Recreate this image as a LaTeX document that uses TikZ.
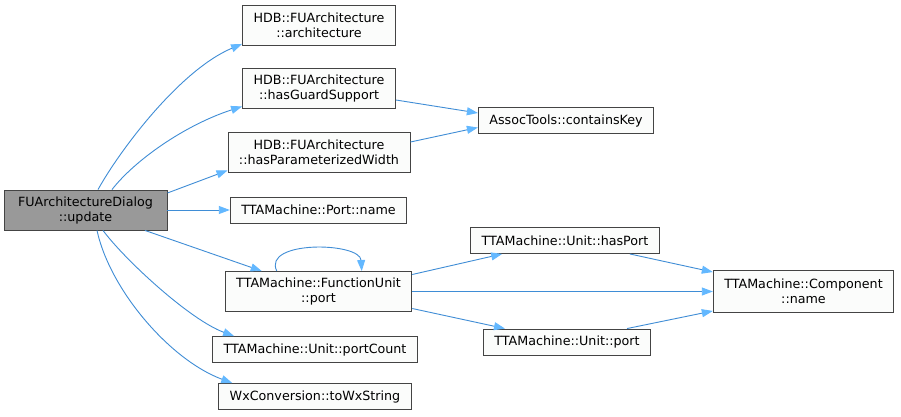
\documentclass[tikz,border=0pt]{standalone}
\usepackage{fontspec}
\setmainfont{DejaVu Sans}
\usetikzlibrary{arrows.meta}
\definecolor{edgec}{HTML}{3F8DD6}
\definecolor{headc}{HTML}{63B8FF}
\definecolor{boxc}{HTML}{444444}
\definecolor{fillc}{HTML}{FBFCFB}
\definecolor{curc}{HTML}{999999}
\begin{document}
\begin{tikzpicture}[x=1pt,y=-1pt,
  fn/.style={draw=boxc, fill=fillc, line width=0.9pt, inner xsep=11pt, inner ysep=0pt,
    font=\fontsize{12.7}{15}\selectfont, align=center, minimum height=26pt},
  fn2/.style={fn, minimum height=40pt},
  cur/.style={fn2, fill=curc, minimum width=163pt},
  edge/.style={draw=edgec, line width=0.9pt, -{Triangle[length=11pt,width=8pt,color=headc]}}]
\fill[white] (0,0) rectangle (901,417);
\useasboundingbox (0,0) rectangle (901,417);

\node[cur] (upd) at (85.5,210) {FUArchitectureDialog\\::update};
\node[fn2] (arch) at (319,25.5) {HDB::FUArchitecture\\::architecture};
\node[fn2] (hg) at (319,88) {HDB::FUArchitecture\\::hasGuardSupport};
\node[fn2] (hpw) at (319,152) {HDB::FUArchitecture\\::hasParameterizedWidth};
\node[fn] (pn) at (318.5,210) {TTAMachine::Port::name};
\node[fn2] (fup) at (318.5,291.5) {TTAMachine::FunctionUnit\\::port};
\node[fn] (pc) at (315,349.5) {TTAMachine::Unit::portCount};
\node[fn] (wx) at (315,396.5) {WxConversion::toWxString};
\node[fn] (ck) at (566,120.5) {AssocTools::containsKey};
\node[fn] (hp) at (565,240.5) {TTAMachine::Unit::hasPort};
\node[fn] (up) at (567,342) {TTAMachine::Unit::port};
\node[fn2, minimum height=42pt] (comp) at (803.5,291.5) {TTAMachine::Component\\::name};

% from update
\draw[edge] ([xshift=12.5pt]upd.north) .. controls (120,150) and (180,70) .. ([yshift=2pt]arch.south west);
\draw[edge] ([xshift=26.5pt]upd.north) .. controls (135,160) and (185,125) .. ([yshift=2pt]hg.south west);
\draw[edge] ([yshift=17pt]upd.east) -- ([yshift=2pt]hpw.south west);
\draw[edge] (upd.east) -- (pn.west);
\draw[edge] ([xshift=59.5pt]upd.south) -- ([xshift=37pt]fup.north west);
\draw[edge] ([xshift=17.5pt]upd.south) .. controls (125,260) and (190,320) .. ([xshift=22pt]pc.north west);
\draw[edge] ([xshift=11.5pt]upd.south) .. controls (110,290) and (170,360) .. ([xshift=14pt]wx.north west);

% self loop
\draw[edge] ([xshift=52pt]fup.north west) .. controls (262,240) and (360,242) .. ([xshift=137pt]fup.north west);

% to containsKey
\draw[edge] ([yshift=-12pt]hg.east) -- ([yshift=7.5pt]ck.west);
\draw[edge] ([yshift=10pt]hpw.east) -- ([yshift=-7pt]ck.west);

% from FunctionUnit::port
\draw[edge] ([yshift=17pt]fup.east) -- ([xshift=32pt]hp.south west);
\draw[edge] (fup.east) -- (comp.west);
\draw[edge] ([yshift=-17pt]fup.east) -- ([xshift=22pt]up.north west);

% to Component::name
\draw[edge] ([xshift=-30pt]hp.south east) -- ([yshift=-2pt]comp.north west);
\draw[edge] ([xshift=-24pt]up.north east) -- ([yshift=2pt]comp.south west);
\end{tikzpicture}
\end{document}
